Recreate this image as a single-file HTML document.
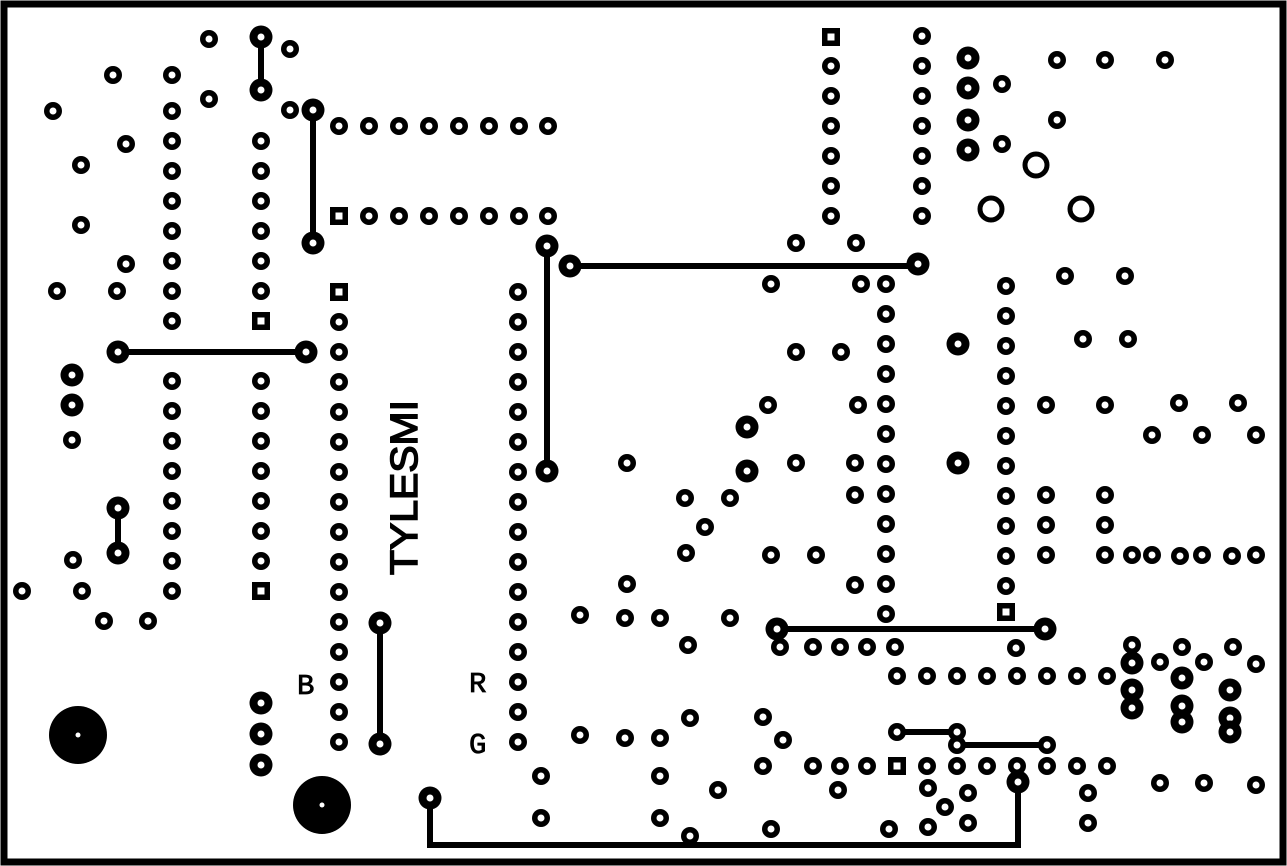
<!DOCTYPE html>
<html><head><meta charset="utf-8"><style>html,body{margin:0;padding:0;background:#fff}svg{display:block}</style></head>
<body>
<svg width="1287" height="866" viewBox="0 0 1287 866" xmlns="http://www.w3.org/2000/svg">
<defs>
<g id="p"><circle r="9" fill="#000"/><circle r="3.5" fill="#fff"/></g>
<g id="b"><circle r="11.5" fill="#000"/><circle r="3.5" fill="#fff"/></g>
<g id="s"><rect x="-9" y="-9" width="18" height="18" fill="#000"/><rect x="-3.5" y="-3.5" width="7" height="7" fill="#fff"/></g>
<g id="r"><circle r="11" fill="none" stroke="#000" stroke-width="5"/></g>
</defs>
<rect x="4" y="4" width="1279" height="858" fill="#fff" stroke="#000" stroke-width="7"/>
<g stroke="#000" stroke-width="6" fill="none" stroke-linecap="round">
<line x1="261" y1="37" x2="261" y2="90"/>
<line x1="313" y1="110" x2="313" y2="243"/>
<line x1="118" y1="352" x2="306" y2="352"/>
<line x1="118" y1="508" x2="118" y2="553"/>
<line x1="380" y1="623" x2="380" y2="744"/>
<polyline points="430,798 430,845 1018,845 1018,782"/>
<line x1="547" y1="246" x2="547" y2="471"/>
<line x1="570" y1="266" x2="918" y2="266"/>
<line x1="777" y1="629" x2="1045" y2="629"/>
<line x1="897" y1="732" x2="957" y2="732"/>
<line x1="957" y1="745" x2="1047" y2="745"/>
</g>
<circle cx="78" cy="735" r="29" fill="#000"/><circle cx="78" cy="735" r="2.5" fill="#fff"/>
<circle cx="322" cy="805" r="29" fill="#000"/><circle cx="322" cy="805" r="2.5" fill="#fff"/>
<g>
<use href="#p" x="209" y="39"/><use href="#p" x="290" y="49"/><use href="#p" x="113" y="75"/><use href="#p" x="172" y="75"/><use href="#p" x="209" y="99"/><use href="#p" x="53" y="111"/><use href="#p" x="172" y="111"/><use href="#p" x="126" y="144"/><use href="#p" x="81" y="165"/><use href="#p" x="81" y="225"/><use href="#p" x="126" y="264"/><use href="#p" x="57" y="291"/><use href="#p" x="117" y="291"/><use href="#p" x="290" y="110"/>
<use href="#p" x="172" y="141"/><use href="#p" x="172" y="171"/><use href="#p" x="172" y="201"/><use href="#p" x="172" y="231"/><use href="#p" x="172" y="261"/><use href="#p" x="172" y="291"/><use href="#p" x="172" y="321"/>
<use href="#p" x="172" y="381"/><use href="#p" x="172" y="411"/><use href="#p" x="172" y="441"/><use href="#p" x="172" y="471"/><use href="#p" x="172" y="501"/><use href="#p" x="172" y="531"/><use href="#p" x="172" y="561"/><use href="#p" x="172" y="591"/>
<use href="#p" x="261" y="141"/><use href="#p" x="261" y="171"/><use href="#p" x="261" y="201"/><use href="#p" x="261" y="231"/><use href="#p" x="261" y="261"/><use href="#p" x="261" y="291"/><use href="#s" x="261" y="321"/>
<use href="#p" x="261" y="381"/><use href="#p" x="261" y="411"/><use href="#p" x="261" y="441"/><use href="#p" x="261" y="471"/><use href="#p" x="261" y="501"/><use href="#p" x="261" y="531"/><use href="#p" x="261" y="561"/><use href="#s" x="261" y="591"/>
<use href="#b" x="261" y="37"/><use href="#b" x="261" y="90"/><use href="#b" x="313" y="110"/><use href="#b" x="313" y="243"/>
<use href="#p" x="339" y="126"/><use href="#p" x="369" y="126"/><use href="#p" x="399" y="126"/><use href="#p" x="429" y="126"/><use href="#p" x="459" y="126"/><use href="#p" x="489" y="126"/><use href="#p" x="519" y="126"/><use href="#p" x="548" y="126"/>
<use href="#s" x="339" y="216"/><use href="#p" x="369" y="216"/><use href="#p" x="399" y="216"/><use href="#p" x="429" y="216"/><use href="#p" x="459" y="216"/><use href="#p" x="489" y="216"/><use href="#p" x="519" y="216"/><use href="#p" x="548" y="216"/>
<use href="#b" x="118" y="352"/><use href="#b" x="306" y="352"/>
<use href="#b" x="72" y="375"/><use href="#b" x="72" y="405"/><use href="#p" x="72" y="440"/>
<use href="#b" x="118" y="508"/><use href="#b" x="118" y="553"/>
<use href="#p" x="73" y="560"/><use href="#p" x="22" y="591"/><use href="#p" x="82" y="591"/><use href="#p" x="104" y="621"/><use href="#p" x="148" y="621"/>
<use href="#s" x="339" y="292"/><use href="#p" x="339" y="322"/><use href="#p" x="339" y="352"/><use href="#p" x="339" y="382"/><use href="#p" x="339" y="412"/><use href="#p" x="339" y="442"/><use href="#p" x="339" y="472"/><use href="#p" x="339" y="502"/><use href="#p" x="339" y="532"/><use href="#p" x="339" y="562"/><use href="#p" x="339" y="592"/><use href="#p" x="339" y="622"/><use href="#p" x="339" y="652"/><use href="#p" x="339" y="682"/><use href="#p" x="339" y="712"/><use href="#p" x="339" y="742"/>
<use href="#p" x="518" y="292"/><use href="#p" x="518" y="322"/><use href="#p" x="518" y="352"/><use href="#p" x="518" y="382"/><use href="#p" x="518" y="412"/><use href="#p" x="518" y="442"/><use href="#p" x="518" y="472"/><use href="#p" x="518" y="502"/><use href="#p" x="518" y="532"/><use href="#p" x="518" y="562"/><use href="#p" x="518" y="592"/><use href="#p" x="518" y="622"/><use href="#p" x="518" y="652"/><use href="#p" x="518" y="682"/><use href="#p" x="518" y="712"/><use href="#p" x="518" y="742"/>
<use href="#b" x="380" y="623"/><use href="#b" x="380" y="744"/>
<use href="#b" x="261" y="703"/><use href="#b" x="261" y="734"/><use href="#b" x="261" y="765"/>
<use href="#b" x="430" y="798"/><use href="#b" x="1018" y="782"/>
<use href="#b" x="547" y="246"/><use href="#b" x="547" y="471"/><use href="#b" x="570" y="266"/><use href="#b" x="918" y="264"/>
<use href="#s" x="831" y="37"/><use href="#p" x="831" y="66"/><use href="#p" x="831" y="96"/><use href="#p" x="831" y="126"/><use href="#p" x="831" y="156"/><use href="#p" x="831" y="186"/><use href="#p" x="831" y="216"/>
<use href="#p" x="922" y="36"/><use href="#p" x="922" y="66"/><use href="#p" x="922" y="96"/><use href="#p" x="922" y="126"/><use href="#p" x="922" y="156"/><use href="#p" x="922" y="186"/><use href="#p" x="922" y="216"/>
<use href="#b" x="968" y="58"/><use href="#b" x="968" y="88"/><use href="#p" x="1002" y="84"/><use href="#b" x="968" y="120"/><use href="#b" x="968" y="150"/><use href="#p" x="1002" y="144"/>
<use href="#p" x="1057" y="60"/><use href="#p" x="1105" y="60"/><use href="#p" x="1165" y="60"/><use href="#p" x="1057" y="120"/>
<use href="#r" x="1036" y="165"/><use href="#r" x="991" y="209"/><use href="#r" x="1081" y="209"/>
<use href="#p" x="796" y="243"/><use href="#p" x="856" y="243"/><use href="#p" x="771" y="284"/><use href="#p" x="861" y="284"/>
<use href="#p" x="886" y="284"/><use href="#p" x="886" y="314"/><use href="#p" x="886" y="344"/><use href="#p" x="886" y="374"/><use href="#p" x="886" y="404"/><use href="#p" x="886" y="434"/><use href="#p" x="886" y="464"/><use href="#p" x="886" y="494"/><use href="#p" x="886" y="524"/><use href="#p" x="886" y="554"/><use href="#p" x="886" y="584"/><use href="#p" x="886" y="614"/>
<use href="#p" x="1006" y="286"/><use href="#p" x="1006" y="316"/><use href="#p" x="1006" y="346"/><use href="#p" x="1006" y="376"/><use href="#p" x="1006" y="406"/><use href="#p" x="1006" y="436"/><use href="#p" x="1006" y="466"/><use href="#p" x="1006" y="496"/><use href="#p" x="1006" y="526"/><use href="#p" x="1006" y="556"/><use href="#p" x="1006" y="586"/><use href="#s" x="1006" y="612"/>
<use href="#p" x="1065" y="276"/><use href="#p" x="1125" y="276"/><use href="#p" x="1083" y="339"/><use href="#p" x="1128" y="339"/><use href="#b" x="958" y="344"/><use href="#p" x="796" y="352"/><use href="#p" x="841" y="352"/>
<use href="#p" x="768" y="405"/><use href="#p" x="858" y="405"/><use href="#p" x="1046" y="405"/><use href="#p" x="1105" y="405"/><use href="#p" x="1179" y="403"/><use href="#p" x="1238" y="403"/><use href="#p" x="1152" y="435"/><use href="#p" x="1202" y="435"/><use href="#p" x="1256" y="435"/>
<use href="#b" x="747" y="427"/><use href="#b" x="747" y="471"/><use href="#p" x="627" y="463"/><use href="#p" x="796" y="463"/><use href="#p" x="855" y="463"/><use href="#b" x="958" y="463"/>
<use href="#p" x="685" y="498"/><use href="#p" x="730" y="498"/><use href="#p" x="855" y="495"/><use href="#p" x="1046" y="495"/><use href="#p" x="1105" y="495"/><use href="#p" x="705" y="527"/><use href="#p" x="1046" y="525"/><use href="#p" x="1105" y="525"/>
<use href="#p" x="686" y="553"/><use href="#p" x="771" y="555"/><use href="#p" x="816" y="555"/><use href="#p" x="1046" y="555"/><use href="#p" x="1105" y="555"/><use href="#p" x="1132" y="555"/><use href="#p" x="1152" y="555"/><use href="#p" x="1180" y="556"/><use href="#p" x="1202" y="555"/><use href="#p" x="1232" y="556"/><use href="#p" x="1256" y="555"/>
<use href="#p" x="627" y="584"/><use href="#p" x="855" y="585"/>
<use href="#p" x="580" y="615"/><use href="#p" x="625" y="618"/><use href="#p" x="660" y="618"/><use href="#p" x="730" y="618"/><use href="#p" x="688" y="645"/>
<use href="#b" x="777" y="629"/><use href="#b" x="1045" y="629"/>
<use href="#p" x="780" y="647"/><use href="#p" x="813" y="647"/><use href="#p" x="840" y="647"/><use href="#p" x="867" y="647"/><use href="#p" x="895" y="647"/><use href="#p" x="1016" y="648"/>
<use href="#p" x="897" y="676"/><use href="#p" x="927" y="676"/><use href="#p" x="957" y="676"/><use href="#p" x="987" y="676"/><use href="#p" x="1017" y="676"/><use href="#p" x="1047" y="676"/><use href="#p" x="1077" y="676"/><use href="#p" x="1107" y="676"/>
<use href="#p" x="1132" y="645"/><use href="#b" x="1132" y="663"/><use href="#p" x="1160" y="662"/><use href="#p" x="1182" y="647"/><use href="#b" x="1182" y="678"/><use href="#p" x="1204" y="662"/><use href="#p" x="1233" y="647"/><use href="#b" x="1230" y="690"/><use href="#p" x="1256" y="664"/>
<use href="#b" x="1132" y="690"/><use href="#b" x="1132" y="708"/><use href="#b" x="1182" y="706"/><use href="#b" x="1182" y="722"/><use href="#b" x="1230" y="718"/><use href="#b" x="1230" y="732"/>
<use href="#p" x="580" y="735"/><use href="#p" x="625" y="738"/><use href="#p" x="660" y="738"/><use href="#p" x="690" y="718"/><use href="#p" x="763" y="717"/><use href="#p" x="783" y="740"/>
<use href="#p" x="897" y="732"/><use href="#p" x="957" y="732"/><use href="#p" x="957" y="745"/><use href="#p" x="1047" y="745"/>
<use href="#p" x="763" y="766"/><use href="#p" x="813" y="766"/><use href="#p" x="840" y="766"/><use href="#p" x="867" y="766"/><use href="#s" x="897" y="766"/><use href="#p" x="927" y="766"/><use href="#p" x="957" y="766"/><use href="#p" x="987" y="766"/><use href="#p" x="1017" y="766"/><use href="#p" x="1047" y="766"/><use href="#p" x="1077" y="766"/><use href="#p" x="1107" y="766"/>
<use href="#p" x="838" y="790"/><use href="#p" x="718" y="790"/><use href="#p" x="541" y="776"/><use href="#p" x="660" y="776"/><use href="#p" x="541" y="818"/><use href="#p" x="660" y="818"/><use href="#p" x="690" y="836"/><use href="#p" x="771" y="829"/><use href="#p" x="889" y="829"/><use href="#p" x="928" y="827"/><use href="#p" x="968" y="823"/><use href="#p" x="945" y="807"/><use href="#p" x="968" y="793"/><use href="#p" x="928" y="788"/><use href="#p" x="1088" y="793"/><use href="#p" x="1088" y="823"/><use href="#p" x="1160" y="783"/><use href="#p" x="1204" y="783"/><use href="#p" x="1256" y="785"/>
</g>
<g font-family="Liberation Mono, monospace" font-size="29" fill="#000" stroke="#000" stroke-width="0.8">
<text x="297" y="694">B</text>
<text x="469" y="692">R</text>
<text x="469" y="753">G</text>
<text transform="translate(385,575) rotate(-90)" font-family="Liberation Sans, sans-serif" font-size="38" textLength="175" lengthAdjust="spacingAndGlyphs" x="0" y="32" stroke-width="1.5">TYLESMI</text>
</g>
</svg>
</body></html>
